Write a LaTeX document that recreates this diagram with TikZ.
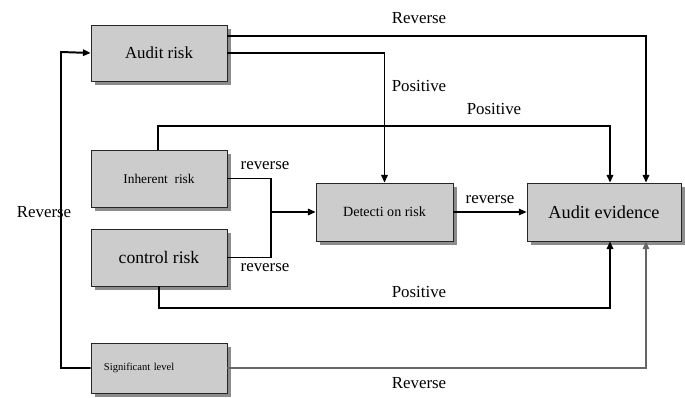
\documentclass[tikz,border=0pt]{standalone}
\usepackage{fontspec}
\setmainfont{Liberation Serif}
\usetikzlibrary{arrows.meta}
\usetikzlibrary{shadows}

\begin{document}
\begin{tikzpicture}[x=0.025cm,y=-0.025cm]

      \useasboundingbox (0,0) rectangle (685,398);

      \begin{scope}[every node/.style={rectangle,draw=black!85,fill=black!20,
          minimum width=3.4cm,
          drop shadow={shadow xshift=2.6pt,shadow yshift=-2.6pt,fill=black!45,opacity=1}}]
        \node[minimum height=1.4cm,font=\fontsize{12}{14}\selectfont] (ar) at (159,53) {Audit risk};
        \node[minimum height=1.425cm,font=\fontsize{9.5}{11}\selectfont] (ir) at (159,178.5) {Inherent\ \ risk};
        \node[minimum height=1.425cm,font=\fontsize{12.5}{14}\selectfont] (cr) at (159,257.5) {control risk};
        \node[minimum height=1.25cm,text width=2.75cm,align=left,
          font=\fontsize{7.5}{9}\selectfont] (sl) at (159,368) {\raisebox{-3pt}{Significant level}};
        \node[minimum width=3.425cm,minimum height=1.45cm,font=\fontsize{10}{12}\selectfont] (dr) at (384.5,212) {Detecti on risk};
        \node[minimum width=3.85cm,minimum height=1.45cm,font=\fontsize{13}{15}\selectfont] (ae) at (604,212) {Audit evidence};
      \end{scope}

      % corners of the connectors
      \coordinate (rA) at (646,36);
      \coordinate (pA) at (610,126);
      \coordinate (pI) at (158,126);
      \coordinate (pB) at (610,308);
      \coordinate (jn) at (271,212);
      \coordinate (rL) at (61,52);

      \begin{scope}[>={Triangle[length=5.5pt,width=4.5pt]},
          every path/.style={draw=black,line width=1.4pt}]
        \draw [->] (ar.east |- rA) -| (ae.north -| rA);
        \draw [->] (ar.east) -| (dr.north);
        \draw [->] (ir.north -| pI) |- (pA) -- (ae.north -| pA);
        \draw (ir.east) -| (jn);
        \draw (cr.east) -| (jn);
        \draw [->] (jn) -- (dr.west);
        \draw [->,line width=1pt] (dr.east) -- (ae.west);
        \draw [->] (cr.south) |- (pB) -- (ae.south -| pB);
        \draw [->,draw=black!60,line width=0.8pt] (sl.east) -| (ae.south -| rA);
        \draw [->] (sl.west) -| (rL) -- (ar.west);
      \end{scope}

      \begin{scope}[every node/.style={font=\fontsize{12}{14}\selectfont}]
        \node (l1) at (419,18) {Reverse};
        \node (l2) at (419,86) {Positive};
        \node (l3) at (494,109) {Positive};
        \node (l4) at (265,166) {reverse};
        \node (l5) at (265,268) {reverse};
        \node (l6) at (490,200) {reverse};
        \node (l7) at (419,292) {Positive};
        \node (l8) at (419,383) {Reverse};
        \node (l9) at (44,212) {Reverse};
      \end{scope}
    \end{tikzpicture}
\end{document}
